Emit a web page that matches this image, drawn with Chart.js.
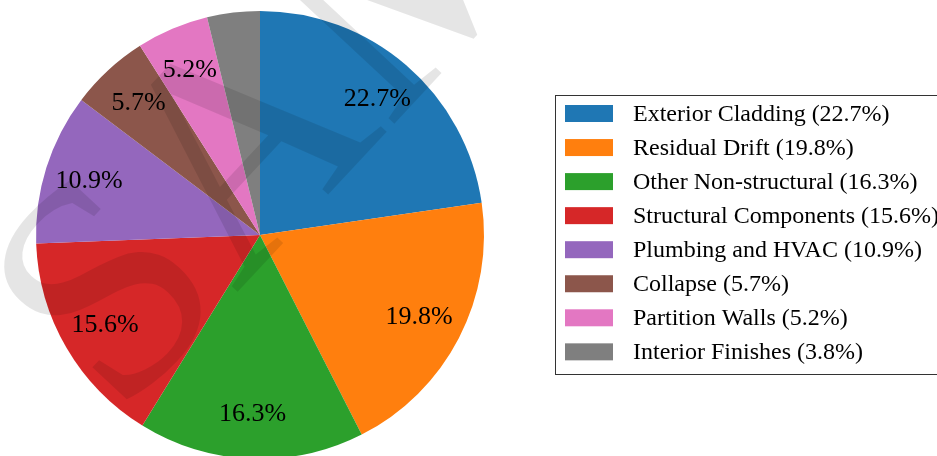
<!DOCTYPE html>
<html>
<head>
<meta charset="utf-8">
<script src="https://cdn.jsdelivr.net/npm/chart.js@4"></script>
<style>
  html, body { margin: 0; padding: 0; background: #fff; overflow: hidden; }
  #wrap { position: absolute; left: 0; top: 0; width: 937px; height: 470px; }
</style>
</head>
<body>
<div id="wrap"><canvas id="lossPie" width="937" height="470"></canvas></div>
<script>
// Loss contributions by component group
const categories = [
  "Exterior Cladding",
  "Residual Drift",
  "Other Non-structural",
  "Structural Components",
  "Plumbing and HVAC",
  "Collapse",
  "Partition Walls",
  "Interior Finishes"
];
const shares = [22.7, 19.8, 16.3, 15.6, 10.9, 5.7, 5.2, 3.8];
const sliceColors = ["#1f77b4", "#ff7f0e", "#2ca02c", "#d62728", "#9467bd", "#8c564b", "#e377c2", "#7f7f7f"];

const SERIF = "'Liberation Serif', 'Times New Roman', Times, serif";

// percentage labels inside slices (at 0.8 of the radius)
const pctLabels = {
  id: "pctLabels",
  afterDatasetsDraw(chart) {
    const ctx = chart.ctx;
    const meta = chart.getDatasetMeta(0);
    ctx.save();
    ctx.font = "26px " + SERIF;
    ctx.fillStyle = "#000";
    ctx.textAlign = "center";
    ctx.textBaseline = "middle";
    meta.data.forEach((arc, i) => {
      if (shares[i] < 5) return; // smallest slice has no label
      const p = arc.getProps(["x", "y", "startAngle", "endAngle", "outerRadius"], true);
      const mid = (p.startAngle + p.endAngle) / 2;
      const r = p.outerRadius * 0.8;
      ctx.fillText(shares[i].toFixed(1) + "%", p.x + Math.cos(mid) * r, p.y + Math.sin(mid) * r);
    });
    ctx.restore();
  }
};

// framed legend to the right of the pie
const legendBox = {
  id: "legendBox",
  afterDraw(chart) {
    const ctx = chart.ctx;
    const left = 555.5, top = 95.5, right = 950, bottom = 374.5;
    ctx.save();
    ctx.fillStyle = "#fff";
    ctx.fillRect(left, top, right - left, bottom - top);
    ctx.strokeStyle = "#333";
    ctx.lineWidth = 1;
    ctx.strokeRect(left, top, right - left, bottom - top);
    ctx.font = "24px " + SERIF;
    ctx.textBaseline = "middle";
    categories.forEach((c, i) => {
      const cy = 113.5 + i * 34.05;
      ctx.fillStyle = sliceColors[i];
      ctx.fillRect(565, cy - 8.5, 48, 17);
      ctx.fillStyle = "#000";
      ctx.fillText(c + " (" + shares[i].toFixed(1) + "%)", 633, cy + 1);
    });
    ctx.restore();
  }
};

// faint watermark across the pie
const watermark = {
  id: "watermark",
  afterDraw(chart) {
    const ctx = chart.ctx;
    ctx.save();
    ctx.translate(118, 420);
    ctx.rotate(-47 * Math.PI / 180);
    ctx.font = "310px " + SERIF;
    ctx.fillStyle = "rgba(0,0,0,0.1)";
    ctx.textBaseline = "alphabetic";
    ctx.fillText("SAMPLE", 0, 0);
    ctx.restore();
  }
};

function drawChart() {
  new Chart(document.getElementById("lossPie").getContext("2d"), {
    type: "pie",
    data: {
      labels: categories,
      datasets: [{
        data: shares,
        backgroundColor: sliceColors,
        borderWidth: 0
      }]
    },
    options: {
      responsive: false,
      animation: false,
      devicePixelRatio: 1,
      layout: { padding: { left: 36, top: 11, right: 453, bottom: 11 } },
      plugins: {
        legend: { display: false },
        tooltip: { enabled: false }
      }
    },
    plugins: [pctLabels, legendBox, watermark]
  });
}

document.fonts.load("26px 'Liberation Serif'").then(drawChart, drawChart);
</script>
</body>
</html>
